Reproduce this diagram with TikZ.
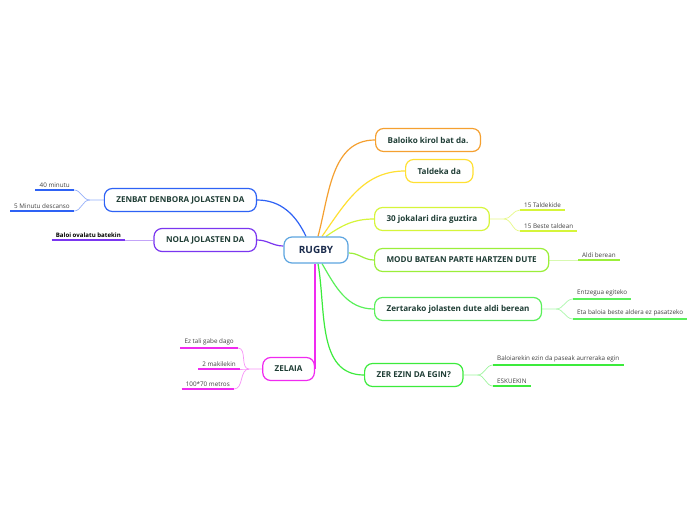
\documentclass[tikz,border=0pt]{standalone}
\usepackage{fontspec}
\setmainfont{Open Sans}
\usetikzlibrary{backgrounds,calc}
\definecolor{corange}{HTML}{F5A030}
\definecolor{cyellow}{HTML}{FFE033}
\definecolor{cyg}{HTML}{D6F53A}
\definecolor{clime}{HTML}{9BEF3A}
\definecolor{cgreen}{HTML}{5AF05A}
\definecolor{cgreendeep}{HTML}{3CEB3C}
\definecolor{cblue}{HTML}{2E62F5}
\definecolor{cpurple}{HTML}{7A36F0}
\definecolor{cmagenta}{HTML}{F02AF0}
\definecolor{crugby}{HTML}{5DA5E0}
\definecolor{nodetext}{HTML}{1F3D35}
\definecolor{roottext}{HTML}{1A2B4C}
\begin{document}
\begin{tikzpicture}[
    x=1pt, y=1pt,
    topic/.style={rectangle, draw, rounded corners=8pt, fill=white, line width=1.2pt, minimum height=23pt, inner xsep=12pt, text=nodetext, font=\fontsize{8.1}{10}\selectfont\bfseries},
    root/.style={topic, draw=crugby, minimum width=64pt, minimum height=26pt, text=roottext, font=\fontsize{10}{12}\selectfont\bfseries},
    leaf/.style={inner xsep=4pt, inner ysep=2.5pt, text=black!75, font=\fontsize{6.3}{7.5}\selectfont},
    branch/.style={line width=1.2pt},
    fork/.style={line width=0.7pt},
    uline/.style={line width=1.5pt}
]
    \useasboundingbox (0,0) rectangle (696,-520);

    \node[root] (rugby) at (316,-250) {RUGBY};
    \node[topic, draw=corange, anchor=west] (baloiko) at (375,-140) {Baloiko kirol bat da.};
    \node[topic, draw=cyellow, anchor=west] (taldeka) at (405,-171) {Taldeka da};
    \node[topic, draw=cyg, anchor=west] (jokalari) at (374,-219) {30 jokalari dira guztira};
    \node[topic, draw=clime, anchor=west] (modu) at (374,-260) {MODU BATEAN PARTE HARTZEN DUTE};
    \node[topic, draw=cgreen, anchor=west] (zertarako) at (374,-309) {Zertarako jolasten dute aldi berean};
    \node[topic, draw=cgreendeep, anchor=west] (zerezin) at (364,-375) {ZER EZIN DA EGIN?};
    \node[topic, draw=cblue, anchor=east] (zenbat) at (257,-200) {ZENBAT DENBORA JOLASTEN DA};
    \node[topic, draw=cpurple, anchor=east] (nola) at (257,-240) {NOLA JOLASTEN DA};
    \node[topic, draw=cmagenta, anchor=east] (zelaia) at (315,-369) {ZELAIA};

    \node[leaf, anchor=south east] (minutu) at (74,-190) {40 minutu};
    \node[leaf, anchor=south east] (descanso) at (74,-211) {5 Minutu descanso};
    \node[leaf, anchor=south east, font=\fontsize{6.1}{7.5}\selectfont\bfseries, text=black] (ovalatu) at (125,-240) {Baloi ovalatu batekin};
    \node[leaf, anchor=south east] (taligabe) at (238,-348) {Ez tali gabe dago};
    \node[leaf, anchor=south east] (makilekin) at (240,-369) {2 makilekin};
    \node[leaf, anchor=south east] (metros) at (234,-389) {100*70 metros};
    \node[leaf, anchor=south west] (taldekide) at (520,-210) {15 Taldekide};
    \node[leaf, anchor=south west] (beste) at (520,-231) {15 Beste taldean};
    \node[leaf, anchor=south west] (aldiberean) at (578,-260) {Aldi berean};
    \node[leaf, anchor=south west] (entzegua) at (573,-299) {Entzegua egiteko};
    \node[leaf, anchor=south west] (pasatzeko) at (573,-319) {Eta baloia beste aldera ez pasatzeko};
    \node[leaf, anchor=south west] (paseak) at (493,-365) {Baloiarekin ezin da paseak aurreraka egin};
    \node[leaf, anchor=south west] (eskuekin) at (493,-386) {ESKUEKIN};

    \foreach \n/\c in {minutu/cblue, descanso/cblue, ovalatu/cpurple, taligabe/cmagenta, makilekin/cmagenta, metros/cmagenta, taldekide/cyg, beste/cyg, aldiberean/clime, entzegua/cgreen, pasatzeko/cgreen, paseak/cgreendeep, eskuekin/cgreendeep}
        \draw[uline, \c] (\n.south west) -- (\n.south east);

    \coordinate (fzenbat) at ($(zenbat.west)+(-14,0)$);
    \coordinate (fzelaia) at ($(zelaia.west)+(-13,0)$);
    \coordinate (fjokalari) at ($(jokalari.east)+(14,0)$);
    \coordinate (fzertarako) at ($(zertarako.east)+(14,0)$);
    \coordinate (fzerezin) at ($(zerezin.east)+(14,0)$);

    \begin{scope}[on background layer]
        \fill[white] (0,0) rectangle (696,-520);
        \draw[branch, corange] ($(rugby.north)+(2,0)$) to[out=75, in=180] (baloiko.west);
        \draw[branch, cyellow] ($(rugby.north)+(6,0)$) to[out=55, in=180] (taldeka.west);
        \draw[branch, cyg] ($(rugby.north)+(10,0)$) to[out=35, in=180] (jokalari.west);
        \draw[branch, clime] ($(rugby.east)+(0,-3)$) to[out=0, in=180] (modu.west);
        \draw[branch, cgreen] ($(rugby.south)+(6,0)$) to[out=-60, in=180] (zertarako.west);
        \draw[branch, cgreendeep] ($(rugby.south)+(2,0)$) to[out=-80, in=180] (zerezin.west);
        \draw[branch, cmagenta] ($(rugby.south)+(-1,0)$) -- (zelaia.east);
        \draw[branch, cblue] (zenbat.east) to[out=0, in=115] ($(rugby.north)+(-10,0)$);
        \draw[branch, cpurple] (nola.east) to[out=0, in=180] ($(rugby.west)+(0,4)$);

        \draw[fork, cblue!50] (zenbat.west) -- (fzenbat) to[out=180, in=0] (minutu.south east);
        \draw[fork, cblue!50] (fzenbat) to[out=180, in=0] (descanso.south east);
        \draw[fork, cpurple!45] (nola.west) -- (ovalatu.south east);
        \draw[fork, cmagenta!50] (zelaia.west) -- (fzelaia) to[out=180, in=0] (taligabe.south east);
        \draw[fork, cmagenta!50] (fzelaia) to[out=180, in=0] (makilekin.south east);
        \draw[fork, cmagenta!50] (fzelaia) to[out=180, in=0] (metros.south east);
        \draw[fork, cyg!60] (jokalari.east) -- (fjokalari) to[out=0, in=180] (taldekide.south west);
        \draw[fork, cyg!60] (fjokalari) to[out=0, in=180] (beste.south west);
        \draw[fork, clime!40] (modu.east) -- (aldiberean.south west);
        \draw[fork, cgreen!50] (zertarako.east) -- (fzertarako) to[out=0, in=180] (entzegua.south west);
        \draw[fork, cgreen!50] (fzertarako) to[out=0, in=180] (pasatzeko.south west);
        \draw[fork, cgreendeep!50] (zerezin.east) -- (fzerezin) to[out=0, in=180] (paseak.south west);
        \draw[fork, cgreendeep!50] (fzerezin) to[out=0, in=180] (eskuekin.south west);
    \end{scope}
\end{tikzpicture}
\end{document}
